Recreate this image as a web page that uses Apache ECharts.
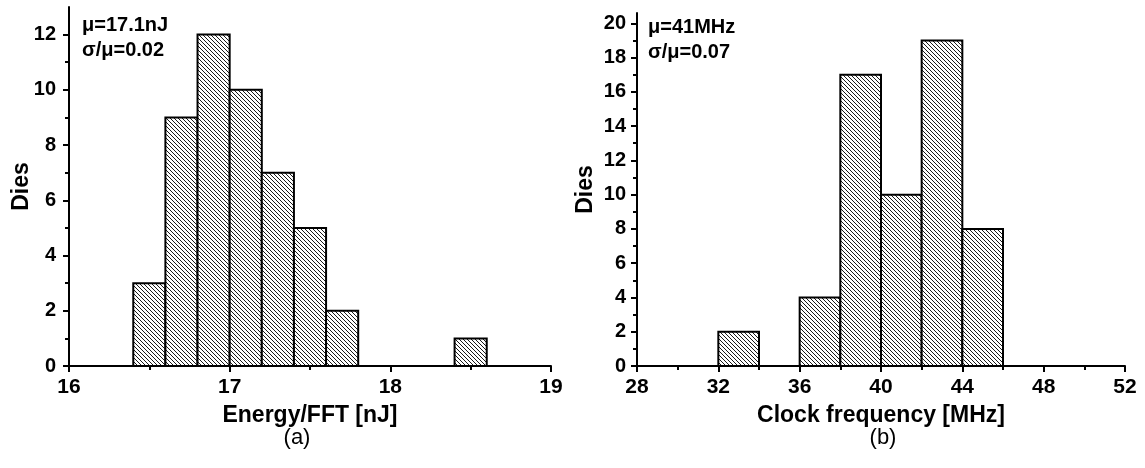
<!DOCTYPE html>
<html>
<head>
<meta charset="utf-8">
<script src="https://cdn.jsdelivr.net/npm/echarts@6/dist/echarts.min.js"></script>
<style>
  html, body { margin: 0; padding: 0; background: #fff; }
  #chart { width: 1145px; height: 468px; }
</style>
</head>
<body>
<div id="chart"></div>
<script>
// Histogram (a): energy per FFT
const energyBinStart = [16.4, 16.6, 16.8, 17.0, 17.2, 17.4, 17.6, 18.4];
const energyCounts   = [3, 9, 12, 10, 7, 5, 2, 1];
const energyBinWidth = 0.2;
const energyXTicks = [16, 17, 18, 19];
const energyXMinor = [16.5, 17.5, 18.5];
const energyYTicks = [0, 2, 4, 6, 8, 10, 12];
const energyYMinor = [1, 3, 5, 7, 9, 11];

// Histogram (b): clock frequency
const freqBinStart = [32, 36, 38, 40, 42, 44];
const freqCounts   = [2, 4, 17, 10, 19, 8];
const freqBinWidth = 2;
const freqXTicks = [28, 32, 36, 40, 44, 48, 52];
const freqXMinor = [30, 34, 38, 42, 46, 50];
const freqYTicks = [0, 2, 4, 6, 8, 10, 12, 14, 16, 18, 20];
const freqYMinor = [1, 3, 5, 7, 9, 11, 13, 15, 17, 19];

const FONT = '"Liberation Sans", Arial, Helvetica, sans-serif';

// diagonal hatch fill
function makeHatch() {
  const s = 4;
  const c = document.createElement('canvas');
  c.width = s; c.height = s;
  const g = c.getContext('2d');
  g.fillStyle = '#fff';
  g.fillRect(0, 0, s, s);
  g.strokeStyle = '#1a1a1a';
  g.lineWidth = 1;
  g.beginPath();
  g.moveTo(-1, -1); g.lineTo(s + 1, s + 1);
  g.moveTo(-1, s - 1); g.lineTo(1, s + 1);
  g.moveTo(s - 1, -1); g.lineTo(s + 1, 1);
  g.stroke();
  return { image: c, repeat: 'repeat' };
}
const hatch = makeHatch();

function binData(starts, counts, width) {
  return starts.map((s, i) => [s, s + width, counts[i]]);
}

function renderBin(params, api) {
  const p0 = api.coord([api.value(0), api.value(2)]);
  const p1 = api.coord([api.value(1), 0]);
  return {
    type: 'rect',
    shape: { x: p0[0], y: p0[1], width: p1[0] - p0[0], height: p1[1] - p0[1] },
    style: { fill: hatch, stroke: '#000', lineWidth: 2 }
  };
}

const xLabelStyle = { color: '#000', fontFamily: FONT, fontWeight: 'bold', fontSize: 21 };
const yLabelStyle = { color: '#000', fontFamily: FONT, fontWeight: 'bold', fontSize: 20 };
const nameStyle = { color: '#000', fontFamily: FONT, fontWeight: 'bold', fontSize: 23 };

function majorX(grid, min, max, ticks, name) {
  return {
    type: 'value', gridIndex: grid, min: min, max: max, position: 'bottom',
    name: name, nameLocation: 'middle', nameGap: 38, nameTextStyle: nameStyle,
    nameMoveOverlap: false,
    axisLine: { show: true, onZero: false, lineStyle: { color: '#000', width: 2 } },
    axisTick: { show: true, length: 6, lineStyle: { color: '#000', width: 2 }, customValues: ticks },
    axisLabel: { ...xLabelStyle, margin: 11, customValues: ticks },
    splitLine: { show: false }
  };
}
function minorX(grid, min, max, ticks) {
  return {
    type: 'value', gridIndex: grid, min: min, max: max, position: 'bottom',
    axisLine: { show: false, onZero: false },
    axisTick: { show: true, length: 4, lineStyle: { color: '#000', width: 2 }, customValues: ticks },
    axisLabel: { show: false },
    splitLine: { show: false }
  };
}
function majorY(grid, max, ticks, gap, margin) {
  return {
    type: 'value', gridIndex: grid, min: 0, max: max, position: 'left',
    name: 'Dies', nameLocation: 'middle', nameGap: gap, nameTextStyle: nameStyle,
    nameMoveOverlap: false,
    axisLine: { show: true, onZero: false, lineStyle: { color: '#000', width: 2 } },
    axisTick: { show: true, length: 6, lineStyle: { color: '#000', width: 2 }, customValues: ticks },
    axisLabel: { ...yLabelStyle, margin: margin, customValues: ticks },
    splitLine: { show: false }
  };
}
function minorY(grid, max, ticks) {
  return {
    type: 'value', gridIndex: grid, min: 0, max: max, position: 'left',
    axisLine: { show: false, onZero: false },
    axisTick: { show: true, length: 4, lineStyle: { color: '#000', width: 2 }, customValues: ticks },
    axisLabel: { show: false },
    splitLine: { show: false }
  };
}

function note(x, y, text) {
  return {
    type: 'text', left: x, top: y,
    style: { text: text, fill: '#000', font: 'bold 20px ' + FONT }
  };
}
function caption(cx, y, text) {
  return {
    type: 'text', x: cx, y: y,
    style: { text: text, fill: '#000', font: '22px ' + FONT, align: 'center', verticalAlign: 'middle' }
  };
}

const chart = echarts.init(document.getElementById('chart'), null, { renderer: 'canvas' });
chart.setOption({
  animation: false,
  backgroundColor: '#fff',
  grid: [
    { left: 69, top: 7, width: 482, height: 359 },
    { left: 637, top: 13, width: 488, height: 353 }
  ],
  xAxis: [
    majorX(0, 16, 19, energyXTicks, 'Energy/FFT [nJ]'),
    minorX(0, 16, 19, energyXMinor),
    majorX(1, 28, 52, freqXTicks, 'Clock frequency [MHz]'),
    minorX(1, 28, 52, freqXMinor)
  ],
  yAxis: [
    majorY(0, 13, energyYTicks, 36, 13),
    minorY(0, 13, energyYMinor),
    majorY(1, 20.6, freqYTicks, 40, 11),
    minorY(1, 20.6, freqYMinor)
  ],
  series: [
    {
      type: 'custom', xAxisIndex: 0, yAxisIndex: 0,
      renderItem: renderBin,
      encode: { x: [0, 1], y: 2 },
      data: binData(energyBinStart, energyCounts, energyBinWidth)
    },
    {
      type: 'custom', xAxisIndex: 2, yAxisIndex: 2,
      renderItem: renderBin,
      encode: { x: [0, 1], y: 2 },
      data: binData(freqBinStart, freqCounts, freqBinWidth)
    }
  ],
  graphic: [
    note(82, 15, 'μ=17.1nJ'),
    note(82, 40, 'σ/μ=0.02'),
    note(648, 17, 'μ=41MHz'),
    note(648, 42, 'σ/μ=0.07'),
    caption(297, 438, '(a)'),
    caption(883, 438, '(b)')
  ]
});
</script>
</body>
</html>
